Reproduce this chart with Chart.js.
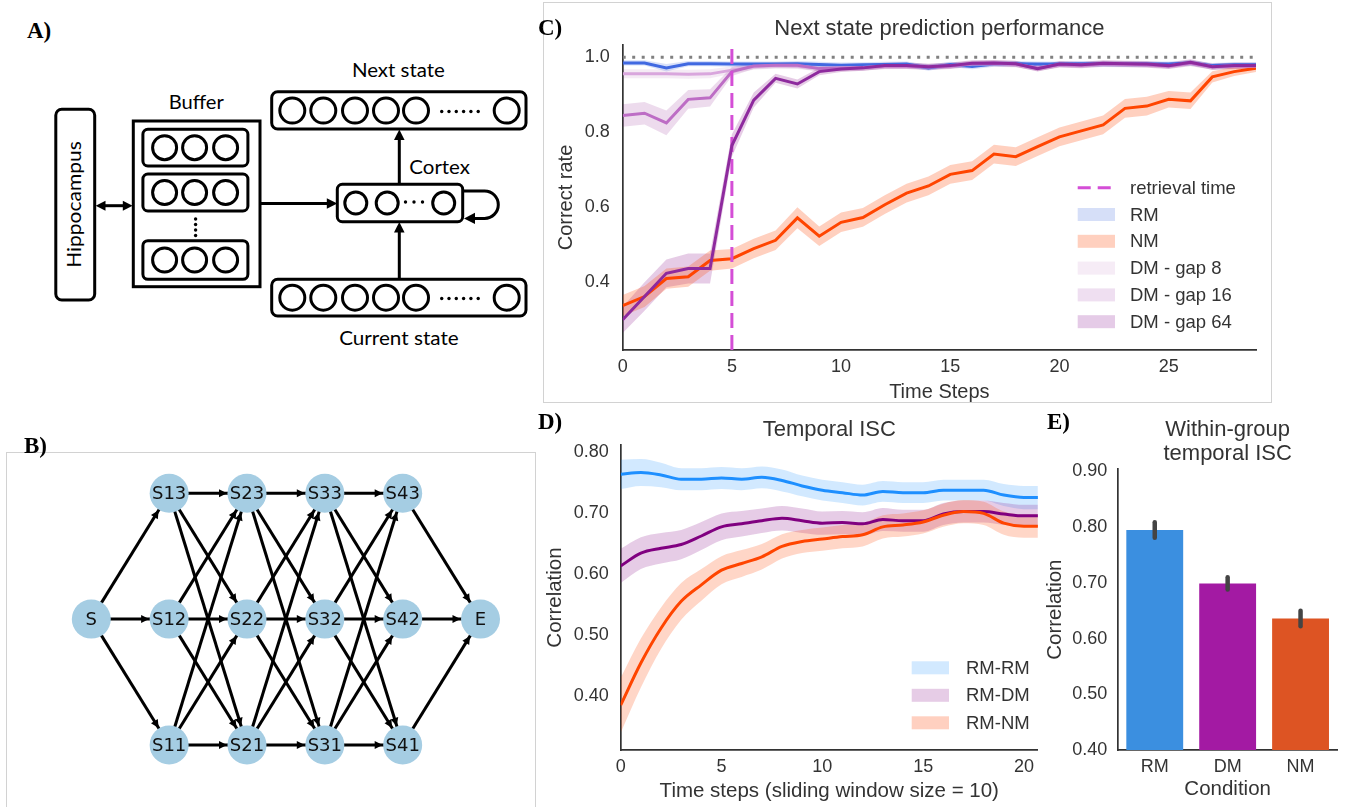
<!DOCTYPE html>
<html lang="en">
<head>
<meta charset="UTF-8">
<title>Memory model figure</title>
<meta name="viewport" content="width=device-width, initial-scale=1.0">
<script src="https://cdn.jsdelivr.net/npm/chart.js"></script>
<style>
  body { margin: 0; background: #fff; width: 1347px; height: 807px; overflow: hidden; position: relative; }
  .lbl { position: absolute; font-family: "Liberation Serif", "Times New Roman", serif; font-weight: bold; font-size: 23px; line-height: 1; color: #000; }
  .frame { position: absolute; border: 1px solid #d2d2d2; box-sizing: border-box; }
  canvas, svg { position: absolute; }
</style>
</head>
<body>
  <svg id="panelA" width="540" height="400" style="left:0;top:0"></svg>
  <div class="frame" style="left:543px;top:2px;width:729px;height:401px"></div>
  <div class="frame" style="left:6px;top:452px;width:530px;height:380px"></div>

  <canvas id="chartB" width="528" height="354" style="left:7px;top:453px;width:528px;height:354px"></canvas>
  <canvas id="chartC" width="728" height="400" style="left:543px;top:2px;width:728px;height:400px"></canvas>
  <canvas id="chartD" width="500" height="407" style="left:540px;top:400px;width:500px;height:407px"></canvas>
  <canvas id="chartE" width="307" height="407" style="left:1040px;top:400px;width:307px;height:407px"></canvas>

  <div class="lbl" style="left:27px;top:19px">A)</div>
  <div class="lbl" style="left:24px;top:434px">B)</div>
  <div class="lbl" style="left:538px;top:16px">C)</div>
  <div class="lbl" style="left:538px;top:410px">D)</div>
  <div class="lbl" style="left:1047px;top:410px">E)</div>

<script>
  // ---- C) next state prediction performance ----
  const cSteps = [0,1,2,3,4,5,6,7,8,9,10,11,12,13,14,15,16,17,18,19,20,21,22,23,24,25,26,27,28,29];
  const cRM    = [0.985,0.985,0.972,0.983,0.983,0.982,0.982,0.982,0.983,0.981,0.979,0.980,0.981,0.982,0.972,0.981,0.976,0.982,0.983,0.982,0.982,0.983,0.982,0.982,0.982,0.982,0.985,0.978,0.980,0.980];
  const cRMErr = [0.007,0.007,0.010,0.007,0.007,0.007,0.007,0.007,0.007,0.007,0.007,0.007,0.007,0.007,0.008,0.007,0.008,0.007,0.007,0.007,0.007,0.007,0.007,0.007,0.007,0.007,0.007,0.007,0.007,0.007];
  const cNM    = [0.338,0.362,0.410,0.415,0.458,0.463,0.490,0.512,0.572,0.523,0.560,0.573,0.607,0.638,0.657,0.688,0.698,0.742,0.735,0.762,0.788,0.804,0.820,0.864,0.870,0.888,0.884,0.948,0.962,0.971];
  const cNMErr = [0.028,0.028,0.027,0.027,0.027,0.026,0.026,0.026,0.028,0.026,0.026,0.025,0.025,0.025,0.025,0.025,0.025,0.025,0.025,0.025,0.025,0.025,0.025,0.025,0.025,0.022,0.022,0.015,0.012,0.010];
  const cGap8  = [0.956,0.956,0.956,0.955,0.956,0.966,0.975,0.978,0.977,0.970,0.972,0.973,0.976,0.977,0.975,0.977,0.982,0.983,0.981,0.972,0.980,0.979,0.982,0.981,0.980,0.977,0.984,0.975,0.977,0.977];
  const cGap8Err  = [0.012,0.012,0.012,0.012,0.012,0.010,0.008,0.008,0.008,0.008,0.008,0.008,0.008,0.008,0.008,0.008,0.008,0.008,0.008,0.008,0.008,0.008,0.008,0.008,0.008,0.008,0.008,0.008,0.008,0.008];
  const cGap16 = [0.845,0.851,0.825,0.888,0.892,0.962,0.977,0.979,0.979,0.970,0.971,0.972,0.977,0.977,0.974,0.977,0.983,0.984,0.982,0.971,0.981,0.979,0.983,0.982,0.980,0.977,0.985,0.975,0.977,0.977];
  const cGap16Err = [0.030,0.030,0.033,0.025,0.023,0.012,0.008,0.008,0.008,0.008,0.008,0.008,0.008,0.008,0.008,0.008,0.008,0.008,0.008,0.008,0.008,0.008,0.008,0.008,0.008,0.008,0.008,0.008,0.008,0.008];
  const cGap64 = [0.300,0.362,0.424,0.437,0.437,0.765,0.886,0.944,0.929,0.962,0.969,0.972,0.978,0.978,0.975,0.978,0.984,0.985,0.983,0.970,0.982,0.980,0.984,0.983,0.982,0.978,0.987,0.975,0.978,0.978];
  const cGap64Err = [0.035,0.038,0.037,0.040,0.040,0.030,0.020,0.012,0.012,0.010,0.008,0.008,0.008,0.008,0.008,0.008,0.008,0.008,0.008,0.008,0.008,0.008,0.008,0.008,0.008,0.008,0.008,0.008,0.008,0.008];
  const cRetrieval = 5;
  const cYTicks = [0.4, 0.6, 0.8, 1.0];
  const cXTicks = [0, 5, 10, 15, 20, 25];
  const cLegend = ['retrieval time', 'RM', 'NM', 'DM - gap 8', 'DM - gap 16', 'DM - gap 64'];

  // ---- D) temporal ISC ----
  const dSteps  = [0,1,2,3,4,5,6,7,8,9,10,11,12,13,14,15,16,17,18,19,20,21];
  const dRMRM   = [0.763,0.766,0.762,0.755,0.755,0.757,0.755,0.758,0.753,0.744,0.737,0.733,0.729,0.735,0.733,0.733,0.737,0.737,0.737,0.729,0.725,0.725];
  const dRMRMErr= [0.024,0.022,0.020,0.018,0.018,0.018,0.018,0.018,0.018,0.017,0.017,0.017,0.017,0.017,0.017,0.017,0.017,0.017,0.017,0.018,0.019,0.019];
  const dRMDM   = [0.613,0.634,0.642,0.648,0.662,0.677,0.682,0.687,0.691,0.687,0.683,0.684,0.682,0.689,0.687,0.687,0.698,0.702,0.702,0.698,0.695,0.695];
  const dRMDMErr= [0.028,0.026,0.025,0.024,0.023,0.022,0.021,0.020,0.020,0.020,0.019,0.019,0.019,0.019,0.018,0.018,0.018,0.018,0.018,0.018,0.018,0.018];
  const dRMNM   = [0.385,0.454,0.511,0.555,0.582,0.606,0.617,0.628,0.645,0.653,0.657,0.661,0.664,0.677,0.680,0.685,0.696,0.702,0.699,0.683,0.678,0.678];
  const dRMNMErr= [0.045,0.040,0.034,0.030,0.026,0.023,0.022,0.021,0.020,0.019,0.019,0.019,0.019,0.019,0.019,0.019,0.019,0.019,0.019,0.019,0.019,0.019];
  const dYTicks = [0.40, 0.50, 0.60, 0.70, 0.80];
  const dXTicks = [0, 5, 10, 15, 20];
  const dLegend = ['RM-RM', 'RM-DM', 'RM-NM'];

  // ---- E) within-group temporal ISC ----
  const eCond = ['RM', 'DM', 'NM'];
  const eMean = [0.795, 0.699, 0.636];
  const eErr  = [0.014, 0.011, 0.014];
  const eYTicks = [0.40, 0.50, 0.60, 0.70, 0.80, 0.90];

  // ---- B) state graph ----
  const bNodes = ['S','S11','S12','S13','S21','S22','S23','S31','S32','S33','S41','S42','S43','E'];
  const bLayer = [0,1,1,1,2,2,2,3,3,3,4,4,4,5];
  const bRow   = [0,-1,0,1,-1,0,1,-1,0,1,-1,0,1,0];
  const bEdges = [
    'S>S11','S>S12','S>S13',
    'S11>S21','S11>S22','S11>S23','S12>S21','S12>S22','S12>S23','S13>S21','S13>S22','S13>S23',
    'S21>S31','S21>S32','S21>S33','S22>S31','S22>S32','S22>S33','S23>S31','S23>S32','S23>S33',
    'S31>S41','S31>S42','S31>S43','S32>S41','S32>S42','S32>S43','S33>S41','S33>S42','S33>S43',
    'S41>E','S42>E','S43>E'
  ];

  const FONT = '"Liberation Sans", Arial, sans-serif';
  Chart.defaults.font.family = FONT;
  Chart.defaults.color = '#333';
  Chart.defaults.animation = false;
  Chart.defaults.events = [];
  Chart.defaults.plugins.legend.display = false;
  Chart.defaults.plugins.tooltip.enabled = false;

  // ---------- panel A: network diagram (plain svg) ----------
  const svgA = document.getElementById('panelA');
  function el(tag, attrs, text) {
    const n = document.createElementNS('http://www.w3.org/2000/svg', tag);
    for (const k in attrs) n.setAttribute(k, attrs[k]);
    if (text) n.textContent = text;
    svgA.appendChild(n);
    return n;
  }
  const strokeA = { fill: 'none', stroke: '#000', 'stroke-width': 3 };
  function box(x, y, w, h, rx) { el('rect', Object.assign({ x, y, width: w, height: h, rx }, strokeA)); }
  function ring(cx, cy, r) { el('circle', Object.assign({ cx, cy, r }, strokeA)); }
  function dot(cx, cy) { el('circle', { cx, cy, r: 1.7, fill: '#000' }); }
  function seg(x1, y1, x2, y2) { el('line', Object.assign({ x1, y1, x2, y2 }, strokeA)); }
  function head(pts) { el('polygon', { points: pts, fill: '#000' }); }
  function label(txt, x, y, len, extra) {
    el('text', Object.assign({ x, y, 'font-family': 'Lato, "Open Sans", sans-serif', 'font-size': 19.5,
      fill: '#000', textLength: len, lengthAdjust: 'spacingAndGlyphs' }, extra || {}), txt);
  }

  box(55.8, 109.3, 38.9, 190.7, 6);
  label('Hippocampus', 0, 0, 126.7, { 'text-anchor': 'middle', transform: 'translate(81.3,204.5) rotate(-90)' });
  seg(101, 205.7, 127, 205.7);
  head('95.7,205.7 105.5,200.7 105.5,210.7');
  head('132.6,205.7 122.8,200.7 122.8,210.7');

  box(133.3, 121, 126.7, 165.7, 0);
  label('Buffer', 168.7, 109.3, 55.1);
  [[129.3, 36.7], [174, 37], [240.7, 38.6]].forEach(([y, h]) => box(142.9, y, 105, h, 5));
  [147.7, 192.5, 260].forEach(cy => [164.6, 194.6, 225.6].forEach(cx => ring(cx, cy, 12)));
  [219, 224.5, 230, 235.5].forEach(y => dot(195.6, y));

  seg(260, 203.5, 330, 203.5);
  head('337.3,203.5 326.8,198.2 326.8,208.8');

  box(337.3, 184.3, 125.4, 37.4, 5);
  [355.8, 387.2, 443.7].forEach(cx => ring(cx, 203, 11));
  [405.5, 414, 422.5].forEach(cx => dot(cx, 202));
  label('Cortex', 409.3, 174.3, 60.7);
  el('path', Object.assign({ d: 'M 462.7 191 H 484.6 A 13.7 13.7 0 0 1 484.6 218.4 H 472' }, strokeA));
  head('464,218.4 475,212.8 475,224');

  box(271.7, 91.7, 254.3, 37.3, 6);
  box(271.7, 279.3, 254.3, 36.7, 6);
  [292.3, 323.3, 355, 386, 416, 506.7].forEach(cx => { ring(cx, 110.6, 12.5); ring(cx, 297.7, 12.5); });
  [441.7, 449, 456.3, 463.6, 470.9, 478.2].forEach(cx => { dot(cx, 111.5); dot(cx, 298.5); });
  label('Next state', 351.9, 77.3, 93);
  label('Current state', 339.2, 345, 119.5);

  seg(399.3, 184.3, 399.3, 137);
  head('399.3,129.5 394,140 404.6,140');
  seg(399.3, 279.3, 399.3, 230);
  head('399.3,222 394,232.5 404.6,232.5');

  // ---------- helpers for charts ----------
  function pts(xs, ys) { return xs.map((x, i) => ({ x, y: ys[i] })); }
  function bandSets(xs, ys, err, color, order, extra) {
    const lo = xs.map((x, i) => ({ x, y: ys[i] - err[i] }));
    const hi = xs.map((x, i) => ({ x, y: ys[i] + err[i] }));
    return [
      Object.assign({ data: lo, borderColor: 'transparent', borderWidth: 0, pointRadius: 0, fill: false, order }, extra || {}),
      Object.assign({ data: hi, borderColor: 'transparent', borderWidth: 0, pointRadius: 0, fill: '-1', backgroundColor: color, order }, extra || {})
    ];
  }
  function lineSet(xs, ys, color, order, extra) {
    return Object.assign({ data: pts(xs, ys), borderColor: color, borderWidth: 3, pointRadius: 0, fill: false, order }, extra || {});
  }
  function fixedTicks(list) { return s => { s.ticks = list.map(v => ({ value: v })); }; }

  function titlePlugin(lines, baselines) {
    return {
      id: 'panelTitle',
      afterDraw(chart) {
        const { ctx, chartArea } = chart;
        ctx.save();
        ctx.font = '22px ' + FONT;
        ctx.fillStyle = '#333';
        ctx.textAlign = 'center';
        ctx.textBaseline = 'alphabetic';
        const cx = (chartArea.left + chartArea.right) / 2;
        lines.forEach((t, i) => ctx.fillText(t, cx, baselines[i]));
        ctx.restore();
      }
    };
  }

  function legendPlugin(items, x0, textX, y0, dy) {
    return {
      id: 'panelLegend',
      afterDraw(chart) {
        const ctx = chart.ctx;
        ctx.save();
        ctx.font = '18.5px ' + FONT;
        ctx.textBaseline = 'middle';
        ctx.textAlign = 'left';
        items.forEach((it, i) => {
          const y = y0 + i * dy;
          if (it.dash) {
            ctx.strokeStyle = it.color;
            ctx.lineWidth = 3;
            ctx.setLineDash([13, 7]);
            ctx.beginPath();
            ctx.moveTo(x0, y);
            ctx.lineTo(x0 + 37.3, y);
            ctx.stroke();
            ctx.setLineDash([]);
          } else {
            ctx.fillStyle = it.color;
            ctx.fillRect(x0, y - 6.5, 37.3, 13);
          }
          ctx.fillStyle = '#333';
          ctx.fillText(it.label, textX, y + 1);
        });
        ctx.restore();
      }
    };
  }

  const axisFont = { size: 18 };
  const spine = { color: '#333', width: 1.7 };

  // ---------- panel C ----------
  const cYMin = 0.2195, cYMax = 1.033;
  const retrievalColor = '#d44ed6';
  const cColors = { rm: '#4169e1', nm: '#ff4500', g8: '#d9a6dd', g16: '#bd6dc5', g64: '#8e2a9e' };
  new Chart(document.getElementById('chartC'), {
    type: 'line',
    data: {
      datasets: [
        lineSet([0, 29], [1, 1], '#808080', 9, { borderDash: [3, 6.5] }),
        ...bandSets(cSteps, cNM, cNMErr, 'rgba(255,69,0,0.25)', 8),
        ...bandSets(cSteps, cRM, cRMErr, 'rgba(65,105,225,0.2)', 8),
        ...bandSets(cSteps, cGap8, cGap8Err, 'rgba(128,0,128,0.08)', 8),
        ...bandSets(cSteps, cGap16, cGap16Err, 'rgba(128,0,128,0.14)', 8),
        ...bandSets(cSteps, cGap64, cGap64Err, 'rgba(128,0,128,0.2)', 8),
        lineSet(cSteps, cNM, cColors.nm, 6),
        lineSet(cSteps, cRM, cColors.rm, 5),
        lineSet(cSteps, cGap8, cColors.g8, 4.5),
        lineSet(cSteps, cGap16, cColors.g16, 4),
        lineSet([cRetrieval, cRetrieval], [cYMin, cYMax], retrievalColor, 3, { borderDash: [15, 7] }),
        lineSet(cSteps, cGap64, cColors.g64, 2)
      ]
    },
    options: {
      responsive: false,
      layout: { autoPadding: false, padding: { left: 0, top: 43, right: 15, bottom: 0 } },
      scales: {
        x: {
          type: 'linear', min: 0, max: 29,
          afterFit(s) { s.height = 52; },
          afterBuildTicks: fixedTicks(cXTicks),
          ticks: { font: axisFont, padding: 6, color: '#333' },
          grid: { display: false, drawTicks: false },
          border: spine,
          title: { display: true, text: 'Time Steps', font: { size: 20, lineHeight: 1 }, padding: { top: 0, bottom: 0 }, color: '#333' }
        },
        y: {
          min: cYMin, max: cYMax,
          afterFit(s) { s.width = 79.7; },
          afterBuildTicks: fixedTicks(cYTicks),
          ticks: { font: axisFont, padding: 13, color: '#333', callback: v => v.toFixed(1) },
          grid: { display: false, drawTicks: false },
          border: spine,
          title: { display: true, text: 'Correct rate', font: { size: 20, lineHeight: 1 }, padding: { top: 13.7, bottom: 0 }, color: '#333' }
        }
      }
    },
    plugins: [
      titlePlugin(['Next state prediction performance'], [33]),
      legendPlugin([
        { label: cLegend[0], dash: true, color: retrievalColor },
        { label: cLegend[1], color: '#d6dff8' },
        { label: cLegend[2], color: '#ffd0bf' },
        { label: cLegend[3], color: '#f6ecf6' },
        { label: cLegend[4], color: '#efdff1' },
        { label: cLegend[5], color: '#e5cbe7' }
      ], 534.7, 587, 185.7, 26.8)
    ]
  });

  // ---------- panel D ----------
  const mono = { cubicInterpolationMode: 'monotone' };
  new Chart(document.getElementById('chartD'), {
    type: 'line',
    data: {
      datasets: [
        ...bandSets(dSteps, dRMRM, dRMRMErr, 'rgba(30,144,255,0.2)', 8, mono),
        ...bandSets(dSteps, dRMDM, dRMDMErr, 'rgba(128,0,128,0.2)', 7, mono),
        ...bandSets(dSteps, dRMNM, dRMNMErr, 'rgba(255,69,0,0.22)', 6, mono),
        lineSet(dSteps, dRMRM, '#1e8fff', 3, mono),
        lineSet(dSteps, dRMDM, '#800080', 2, mono),
        lineSet(dSteps, dRMNM, '#ff4500', 1, mono)
      ]
    },
    options: {
      responsive: false,
      layout: { autoPadding: false, padding: { left: 0, top: 45, right: 1, bottom: 0 } },
      scales: {
        x: {
          type: 'linear', min: 0, max: 20.69,
          afterFit(s) { s.height = 57; },
          afterBuildTicks: fixedTicks(dXTicks),
          ticks: { font: axisFont, padding: 6, color: '#333' },
          grid: { display: false, drawTicks: false },
          border: spine,
          title: { display: true, text: 'Time steps (sliding window size = 10)', font: { size: 20.5, lineHeight: 1 }, padding: { top: 0, bottom: 5 }, color: '#333' }
        },
        y: {
          min: 0.3116, max: 0.811,
          afterFit(s) { s.width = 80.7; },
          afterBuildTicks: fixedTicks(dYTicks),
          ticks: { font: axisFont, padding: 12, color: '#333', callback: v => v.toFixed(2) },
          grid: { display: false, drawTicks: false },
          border: spine,
          title: { display: true, text: 'Correlation', font: { size: 20.5, lineHeight: 1 }, padding: { top: 5, bottom: 0 }, color: '#333' }
        }
      }
    },
    plugins: [
      titlePlugin(['Temporal ISC'], [35.7]),
      legendPlugin([
        { label: dLegend[0], color: '#d2e9ff' },
        { label: dLegend[1], color: '#e6cce6' },
        { label: dLegend[2], color: '#ffd0c0' }
      ], 371.7, 426, 267.8, 27.5)
    ]
  });

  // ---------- panel E ----------
  const errorBars = {
    id: 'errorBars',
    afterDatasetsDraw(chart) {
      const { ctx, scales: { x, y } } = chart;
      ctx.save();
      ctx.strokeStyle = '#444';
      ctx.lineWidth = 4.5;
      ctx.lineCap = 'round';
      eMean.forEach((m, i) => {
        const px = x.getPixelForValue(i);
        ctx.beginPath();
        ctx.moveTo(px, y.getPixelForValue(m - eErr[i]));
        ctx.lineTo(px, y.getPixelForValue(m + eErr[i]));
        ctx.stroke();
      });
      ctx.restore();
    }
  };
  new Chart(document.getElementById('chartE'), {
    type: 'bar',
    data: {
      labels: eCond,
      datasets: [{
        data: eMean,
        backgroundColor: ['#3b8fe0', '#a31aa3', '#dd5423'],
        borderWidth: 0,
        barPercentage: 0.78,
        categoryPercentage: 1
      }]
    },
    options: {
      responsive: false,
      layout: { padding: { left: 0, top: 69.3, right: 10, bottom: 0 } },
      scales: {
        x: {
          afterFit(s) { s.height = 57; },
          ticks: { font: axisFont, padding: 6, color: '#333' },
          grid: { display: false, drawTicks: false },
          border: spine,
          title: { display: true, text: 'Condition', font: { size: 20.5, lineHeight: 1 }, padding: { top: 0, bottom: 7 }, color: '#333' }
        },
        y: {
          min: 0.4, max: 0.904,
          afterFit(s) { s.width = 78.3; },
          afterBuildTicks: fixedTicks(eYTicks),
          ticks: { font: axisFont, padding: 11, color: '#333', callback: v => v.toFixed(2) },
          grid: { display: false, drawTicks: false },
          border: spine,
          title: { display: true, text: 'Correlation', font: { size: 20.5, lineHeight: 1 }, padding: { top: 5, bottom: 0 }, color: '#333' }
        }
      }
    },
    plugins: [errorBars, titlePlugin(['Within-group', 'temporal ISC'], [36, 59.5])]
  });

  // ---------- panel B ----------
  const nodeIdx = name => bNodes.indexOf(name);
  const nodePoint = i => ({ x: bLayer[i], y: bRow[i] });
  const nodeR = 19.5;
  const graphDecor = {
    id: 'graphDecor',
    afterDatasetsDraw(chart) {
      const { ctx, scales: { x, y } } = chart;
      ctx.save();
      ctx.fillStyle = '#000';
      bEdges.forEach(e => {
        const [a, b] = e.split('>').map(nodeIdx);
        const x1 = x.getPixelForValue(bLayer[a]), y1 = y.getPixelForValue(bRow[a]);
        const x2 = x.getPixelForValue(bLayer[b]), y2 = y.getPixelForValue(bRow[b]);
        const len = Math.hypot(x2 - x1, y2 - y1);
        const ux = (x2 - x1) / len, uy = (y2 - y1) / len;
        const tx = x2 - ux * (nodeR + 0.5), ty = y2 - uy * (nodeR + 0.5);
        const bx = tx - ux * 8, by = ty - uy * 8;
        ctx.beginPath();
        ctx.moveTo(tx, ty);
        ctx.lineTo(bx - uy * 4, by + ux * 4);
        ctx.lineTo(bx + uy * 4, by - ux * 4);
        ctx.closePath();
        ctx.fill();
      });
      ctx.font = '18px "DejaVu Sans", sans-serif';
      ctx.fillStyle = '#111';
      ctx.textAlign = 'center';
      ctx.textBaseline = 'middle';
      bNodes.forEach((n, i) => ctx.fillText(n, x.getPixelForValue(bLayer[i]), y.getPixelForValue(bRow[i]) + 1));
      ctx.restore();
    }
  };
  const edgeSets = bEdges.map(e => {
    const [a, b] = e.split('>').map(nodeIdx);
    return { data: [nodePoint(a), nodePoint(b)], showLine: true, borderColor: '#000', borderWidth: 3, pointRadius: 0, order: 1 };
  });
  new Chart(document.getElementById('chartB'), {
    type: 'scatter',
    data: {
      datasets: [
        { data: bNodes.map((n, i) => nodePoint(i)), pointRadius: nodeR, backgroundColor: '#a5cde3', borderWidth: 0, order: 0 },
        ...edgeSets
      ]
    },
    options: {
      responsive: false,
      layout: { autoPadding: false, padding: 0 },
      scales: {
        x: { display: false, min: -1.083, max: 5.70 },
        y: { display: false, min: -1.493, max: 1.320 }
      }
    },
    plugins: [graphDecor]
  });
</script>
</body>
</html>
